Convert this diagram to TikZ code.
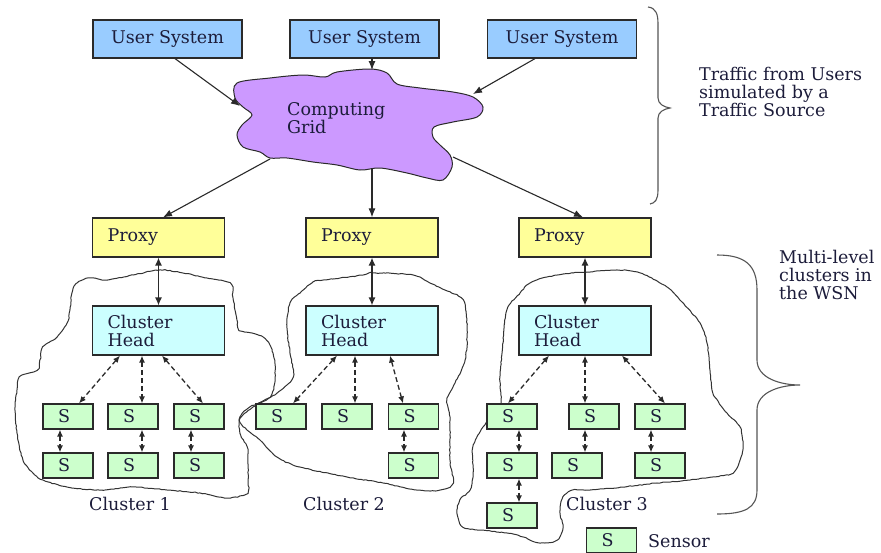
\documentclass[tikz,border=0pt]{standalone}
\usepackage{fontspec}
\setmainfont{DejaVu Serif}
\usetikzlibrary{arrows.meta,decorations.pathmorphing,calc}
\definecolor{userblue}{HTML}{99CCFF}
\definecolor{gridpurple}{HTML}{CC99FF}
\definecolor{proxyyellow}{HTML}{FFFF99}
\definecolor{headcyan}{HTML}{CCFFFF}
\definecolor{sgreen}{HTML}{CCFFCC}
\definecolor{boxline}{HTML}{2A2A2A}
\definecolor{txtcol}{HTML}{1C1C3A}
\definecolor{outline}{HTML}{333333}
\definecolor{bracecol}{HTML}{555555}
\begin{document}
\begin{tikzpicture}[x=1pt,y=-1pt,
  font=\fontsize{17.5}{18}\selectfont,
  every node/.style={text=txtcol},
  box/.style={draw=boxline, line width=1.2pt, inner ysep=0pt},
  userbox/.style={box, fill=userblue, minimum width=149pt, minimum height=38pt},
  proxybox/.style={box, fill=proxyyellow, minimum height=39pt, text width=102pt, inner xsep=15pt, align=left},
  headbox/.style={box, fill=headcyan, minimum height=49pt, text width=102pt, inner xsep=15pt, align=left},
  sensor/.style={box, fill=sgreen, minimum height=25pt, text width=20pt, inner xsep=15pt, align=left},
  lbl/.style={anchor=base west, align=left, inner sep=0pt},
  arr/.style={draw=boxline, line width=1.1pt, -{Latex[length=9pt,width=7pt]}},
  dblarr/.style={draw=boxline, line width=1.3pt, {Latex[length=8pt,width=7pt]}-{Latex[length=8pt,width=7pt]}},
  darr/.style={draw=boxline, line width=1.3pt, dash pattern=on 5pt off 3pt, {Latex[length=7pt,width=6pt]}-{Latex[length=7pt,width=6pt]}},
  clusterline/.style={draw=outline, line width=1pt, decorate, decoration={random steps, segment length=2.5pt, amplitude=0.4pt}},
  bracestyle/.style={draw=bracecol, line width=1.1pt}
]
\useasboundingbox (0,0) rectangle (881,552);
\pgfmathsetseed{7}

% cluster outlines
\draw[clusterline] plot[smooth cycle, tension=0.55] coordinates {(72,293) (77,283) (90,278) (107,280) (133,275) (160,270) (183,273) (207,278) (230,283) (233,297) (237,320) (240,330) (263,337) (273,353) (275,377) (270,397) (250,407) (240,417) (240,433) (247,447) (248,460) (248,480) (247,493) (227,498) (200,493) (167,490) (133,487) (100,490) (67,487) (43,480) (33,473) (23,460) (17,433) (15,410) (17,390) (20,377) (37,370) (40,360) (43,347) (57,337) (67,323) (70,310)};
\draw[clusterline] plot[smooth cycle, tension=0.55] coordinates {(313,282) (323,280) (340,278) (363,275) (373,273) (413,275) (430,283) (445,290) (463,300) (467,327) (465,360) (453,387) (447,400) (450,420) (450,460) (453,483) (440,490) (417,490) (383,483) (347,477) (300,467) (277,457) (260,440) (247,430) (240,420) (253,407) (277,393) (293,377) (290,353) (287,327) (290,303) (300,293)};
\draw[clusterline] plot[smooth cycle, tension=0.55] coordinates {(520,293) (530,283) (547,277) (573,273) (587,272) (617,270) (640,273) (667,287) (680,300) (700,323) (707,343) (710,370) (713,393) (727,413) (740,427) (743,447) (740,460) (733,473) (713,477) (690,480) (657,483) (623,487) (590,490) (573,490) (563,497) (560,513) (563,527) (557,540) (540,543) (523,537) (507,533) (480,530) (463,527) (457,513) (460,500) (470,490) (473,473) (473,447) (483,427) (500,407) (500,377) (503,343) (507,310)};

% computing grid cloud
\draw[fill=gridpurple, draw=boxline, line width=1pt] plot[smooth cycle, tension=0.55] coordinates {(237,83) (270,78) (303,75) (325,77) (337,72) (370,69) (387,73) (397,84) (420,88) (453,92) (473,97) (483,107) (477,117) (453,122) (434,127) (433,137) (440,145) (450,155) (452,167) (443,180) (427,178) (407,173) (380,168) (360,170) (337,165) (313,162) (287,158) (270,158) (260,152) (243,147) (237,135) (242,125) (252,115) (243,107) (235,98)};
\node[lbl] (grid) at (287,133) {Computing\\Grid};
\coordinate (g1) at (240,106);
\coordinate (g2) at (372,70);
\coordinate (g3) at (473,94);
\coordinate (g4) at (270,159);
\coordinate (g5) at (372,168);
\coordinate (g6) at (453,157);

% user systems
\node[userbox] (u1) at (167.5,39) {User System};
\node[userbox] (u2) at (364.5,39) {User System};
\node[userbox] (u3) at (562,39) {User System};

% proxies
\node[proxybox] (p1) at (158.5,237.5) {Proxy};
\node[proxybox] (p2) at (372,237.5) {Proxy};
\node[proxybox] (p3) at (585,237.5) {Proxy};

% cluster heads
\node[headbox] (h1) at (158.5,330.5) {Cluster\\Head};
\node[headbox] (h2) at (372,330.5) {Cluster\\Head};
\node[headbox] (h3) at (585,330.5) {Cluster\\Head};

% sensors
\node[sensor] (a1) at (68,416.5) {S};
\node[sensor] (a2) at (133,416.5) {S};
\node[sensor] (a3) at (199,416.5) {S};
\node[sensor] (a4) at (68,465.5) {S};
\node[sensor] (a5) at (133,465.5) {S};
\node[sensor] (a6) at (199,465.5) {S};
\node[sensor] (b1) at (281,416.5) {S};
\node[sensor] (b2) at (347,416.5) {S};
\node[sensor] (b3) at (413.5,416.5) {S};
\node[sensor] (b4) at (413.5,465.5) {S};
\node[sensor] (c1) at (512,416.5) {S};
\node[sensor] (c2) at (594,416.5) {S};
\node[sensor] (c3) at (660,416.5) {S};
\node[sensor] (c4) at (512,465.5) {S};
\node[sensor] (c5) at (577,465.5) {S};
\node[sensor] (c6) at (660,465.5) {S};
\node[sensor] (c7) at (512,515.5) {S};
\node[sensor] (leg) at (611.5,540.5) {S};

% top arrows
\draw[arr] ([xshift=7.5pt]u1.south) -- (g1);
\draw[arr] ([xshift=7.5pt]u2.south) -- (g2);
\draw[arr] ([xshift=-27pt]u3.south) -- (g3);
\draw[arr] (g4) -- ([xshift=4.5pt]p1.north);
\draw[arr] (g5) -- (p2.north);
\draw[arr] (g6) -- ([xshift=-2pt]p3.north);

% proxy - head
\draw[dblarr] (p1.south) -- (h1.north);
\draw[dblarr] (p2.south) -- (h2.north);
\draw[dblarr] (p3.south) -- (h3.north);

% head - sensors
\draw[darr] ([xshift=-38.5pt]h1.south) -- ([xshift=11pt]a1.north);
\draw[darr] ([xshift=-16.5pt]h1.south) -- ([xshift=9pt]a2.north);
\draw[darr] ([xshift=3.5pt]h1.south) -- ([xshift=4pt]a3.north);
\draw[darr] ([xshift=-35pt]h2.south) -- ([xshift=12pt]b1.north);
\draw[darr] ([xshift=-17pt]h2.south) -- ([xshift=8pt]b2.north);
\draw[darr] ([xshift=18pt]h2.south) -- ([xshift=-10.5pt]b3.north);
\draw[darr] ([xshift=-36pt]h3.south) -- ([xshift=-4pt]c1.north);
\draw[darr] (h3.south) -- ([xshift=-9pt]c2.north);
\draw[darr] ([xshift=37pt]h3.south) -- ([xshift=5pt]c3.north);

% sensor - sensor
\draw[darr] ([xshift=-8pt]a1.south) -- ([xshift=-8pt]a4.north);
\draw[darr] ([xshift=9pt]a2.south) -- ([xshift=9pt]a5.north);
\draw[darr] ([xshift=-8pt]a3.south) -- ([xshift=-8pt]a6.north);
\draw[darr] ([xshift=-9.5pt]b3.south) -- ([xshift=-9.5pt]b4.north);
\draw[darr] ([xshift=7pt]c1.south) -- ([xshift=7pt]c4.north);
\draw[darr] ([xshift=7pt]c4.south) -- ([xshift=7pt]c7.north);
\draw[darr] ([xshift=-9pt]c2.south) -- ([xshift=8pt]c5.north);
\draw[darr] ([xshift=-9pt]c3.south) -- ([xshift=-9pt]c6.north);

% labels
\node[lbl] (cl1) at (89,510) {Cluster 1};
\node[lbl] (cl2) at (303,510) {Cluster 2};
\node[lbl] (cl3) at (566,510) {Cluster 3};
\node[lbl] (sen) at (648,547) {Sensor};
\node[lbl] (t1) at (699,116) {Traffic from Users\\simulated by a\\Traffic Source};
\node[lbl] (t2) at (779,299) {Multi-level\\clusters in\\the WSN};

% braces
\draw[bracestyle] (648,7) .. controls (656,8) and (658,14) .. (658,24) -- (658,98) .. controls (658,104) and (664,107) .. (670,108) .. controls (664,109) and (658,112) .. (658,118) -- (658,190) .. controls (658,200) and (655,203) .. (650,204);
\draw[bracestyle] (717,255) .. controls (745,255) and (757,265) .. (757,290) -- (757,360) .. controls (757,378) and (780,385) .. (800,385) .. controls (780,385) and (757,392) .. (757,410) -- (757,490) .. controls (757,508) and (745,514) .. (717,514);
\end{tikzpicture}
\end{document}
